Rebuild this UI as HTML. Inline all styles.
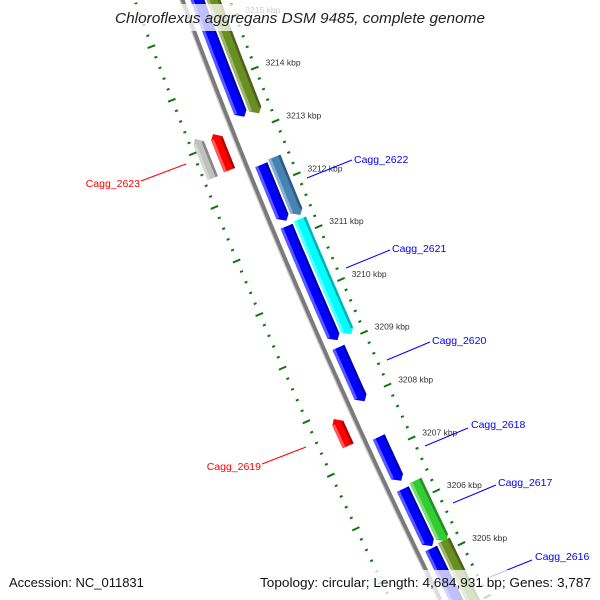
<!DOCTYPE html>
<html><head><meta charset="utf-8"><style>
html,body{margin:0;padding:0;background:#fff;width:600px;height:600px;overflow:hidden;}
svg{display:block;overflow:hidden;font-family:"Liberation Sans","DejaVu Sans",sans-serif;}
</style></head><body>
<svg id="map" width="600" height="600" viewBox="0 0 600 600" xmlns="http://www.w3.org/2000/svg">
<defs><clipPath id="frame"><rect x="0" y="0" width="600" height="600"/></clipPath></defs>
<g clip-path="url(#frame)">
<g id="ticks"></g>
<g id="backbone"></g>
<g id="features"></g>
<g id="labels">
<line x1="307" y1="178" x2="352" y2="160" stroke="#0000ff" stroke-width="1"/>
<text x="354" y="163" font-size="10.5" fill="#0000ff">Cagg_2622</text>
<line x1="346" y1="268" x2="390" y2="250" stroke="#0000ff" stroke-width="1"/>
<text x="392" y="252" font-size="10.5" fill="#0000ff">Cagg_2621</text>
<line x1="387" y1="360" x2="430" y2="342" stroke="#0000ff" stroke-width="1"/>
<text x="432" y="344" font-size="10.5" fill="#0000ff">Cagg_2620</text>
<line x1="425" y1="446" x2="468" y2="428" stroke="#0000ff" stroke-width="1"/>
<text x="471" y="428" font-size="10.5" fill="#0000ff">Cagg_2618</text>
<line x1="453" y1="503" x2="496" y2="485" stroke="#0000ff" stroke-width="1"/>
<text x="498" y="486" font-size="10.5" fill="#0000ff">Cagg_2617</text>
<line x1="490" y1="577" x2="532" y2="560" stroke="#0000ff" stroke-width="1"/>
<text x="535" y="560" font-size="10.5" fill="#0000ff">Cagg_2616</text>
<line x1="141" y1="181" x2="186" y2="164" stroke="#ff0000" stroke-width="1"/>
<text x="140" y="187" font-size="10.5" fill="#ff0000" text-anchor="end">Cagg_2623</text>
<line x1="262" y1="464" x2="306" y2="447" stroke="#ff0000" stroke-width="1"/>
<text x="261" y="470" font-size="10.5" fill="#ff0000" text-anchor="end">Cagg_2619</text>
</g>
<rect x="108" y="4" width="384" height="27" fill="#fff" fill-opacity="0.75"/>
<text x="115" y="23" font-size="14.5" font-style="italic" textLength="370" lengthAdjust="spacingAndGlyphs" fill="#222">Chloroflexus aggregans DSM 9485, complete genome</text>
<rect x="0" y="570" width="600" height="30" fill="#fff" fill-opacity="0.75"/>
<text x="9" y="587" font-size="13" fill="#111">Accession: NC_011831</text>
<text x="260" y="587" font-size="13" fill="#111" textLength="331" lengthAdjust="spacingAndGlyphs">Topology: circular; Length: 4,684,931 bp; Genes: 3,787</text>
</g>
</svg>
<script>
// ---- data ----
var featStart = [3215.95,3212.38,3211.22,3208.94,3207.25,3206.27,3205.15, 3215.95,3212.42,3211.25,3206.31,3205.18, 3213.19,3213.23,3207.85];
var featEnd   = [3213.27,3211.31,3209.06,3207.91,3206.41,3205.18,3203.55, 3213.23,3211.31,3209.06,3205.15,3203.55, 3212.50,3212.48,3207.33];
var featStrand= [1,1,1,1,1,1,1, 1,1,1,1,1, -1,-1,-1];
var featTrack = [0,0,0,0,0,0,0, 1,1,1,1,1, 0,1,0];
var featColor = ["#0000ff","#0000ff","#0000ff","#0000ff","#0000ff","#0000ff","#0000ff","#6b8e23","#4682b4","#00ffff","#33cc33","#6b8e23","#ff0000","#c0c0c0","#ff0000"];
var tickKbp = [3216,3215,3214,3213,3212,3211,3210,3209,3208,3207,3206,3205,3204];
var tickLabelKbp = [3215,3214,3213,3212,3211,3210,3209,3208,3207,3206,3205];

// ---- geometry ----
var NS="http://www.w3.org/2000/svg";
var A=182,B=0.37,C=0.0001;
function yOf(k){return 84+(3214-k)*53.2;}
function X(y){return A+B*y+C*y*y;}
function pt(y,off){var d=B+2*C*y,n=Math.sqrt(1+d*d);return [X(y)+off/n, y-off*d/n];}
function poly(pts,fill,g,name){
  var p=document.createElementNS(NS,"polygon");
  p.setAttribute("points",pts.map(function(q){return q[0].toFixed(1)+","+q[1].toFixed(1);}).join(" "));
  p.setAttribute("fill",fill);
  
  
  g.appendChild(p);
}
function shade(hex,f){
  var r=parseInt(hex.substr(1,2),16),g=parseInt(hex.substr(3,2),16),b=parseInt(hex.substr(5,2),16);
  function m(v){return Math.max(0,Math.min(255,Math.round(f>0?v+(255-v)*f:v*(1+f))));}
  return "rgb("+m(r)+","+m(g)+","+m(b)+")";
}
function body(y1,y2,o1,o2){
  var pts=[],N=20,i;
  for(i=0;i<=N;i++)pts.push(pt(y1+(y2-y1)*i/N,o1));
  for(i=N;i>=0;i--)pts.push(pt(y1+(y2-y1)*i/N,o2));
  return pts;
}

// backbone
var bb=document.getElementById("backbone");
function bbLine(off,col,w,name){
  var d="",y;
  for(y=-20;y<=600;y+=10){var q=pt(y,off);d+=(y===-20?"M":"L")+q[0].toFixed(1)+","+q[1].toFixed(1);}
  var p=document.createElementNS(NS,"path");
  p.setAttribute("d",d);p.setAttribute("stroke",col);p.setAttribute("stroke-width",w);p.setAttribute("fill","none");
  
  
  bb.appendChild(p);
}
bbLine(0.5,"#7a7a7a",4,"backbone-line");
bbLine(-2,"#c8c8c8",1.2,"backbone-highlight");

// features
var fg=document.getElementById("features");
for(var i=0;i<featStart.length;i++){
  var y1=yOf(featStart[i]),y2=Math.min(yOf(featEnd[i]),640),s=featStrand[i],t=featTrack[i];
  var o1,o2;
  if(s>0){o1=t===0?8:23;o2=t===0?21:36;}else{o1=t===0?-23:-41;o2=t===0?-11:-30;}
  var lo=Math.min(o1,o2),hi=Math.max(o1,o2),mid=(lo+hi)/2,al=5,pts;
  if(s>0){pts=body(y1,y2-al,lo,hi);pts.splice(21,0,pt(y2,mid+2));}
  else{pts=body(y1+al,y2,lo,hi);pts.push(pt(y1,mid-2));}
  poly(pts,featColor[i],fg,"gene-"+i);
  var b1=s>0?y1:y1+al,b2=s>0?y2-al:y2;
  poly(body(b1,b2,lo,lo+3),shade(featColor[i],0.35),fg,"gene-"+i+"-highlight");
  poly(body(b1,b2,hi-2.5,hi),shade(featColor[i],-0.3),fg,"gene-"+i+"-shadow");
}

// ticks
var tg=document.getElementById("ticks");
function dash(y,a,b,w){
  var p=pt(y,a),q=pt(y,b),l=document.createElementNS(NS,"line");
  l.setAttribute("x1",p[0]);l.setAttribute("y1",p[1]);l.setAttribute("x2",q[0]);l.setAttribute("y2",q[1]);
  l.setAttribute("stroke","#0a7a0a");l.setAttribute("stroke-width",w);
  
  
  tg.appendChild(l);
}
for(var j=0;j<tickKbp.length;j++){
  var k=tickKbp[j];
  for(var m=0;m<5;m++){
    var y=yOf(k-m*0.2);
    if(m===0){dash(y,40,48,2);dash(y,-49,-41,2);}
    else{dash(y,43,46,2);dash(y,-46,-43,2);}
  }
}
for(var j2=0;j2<tickLabelKbp.length;j2++){
  var kk=tickLabelKbp[j2];
  var e=pt(yOf(kk),48),tx=document.createElementNS(NS,"text");
  tx.setAttribute("x",(e[0]+7).toFixed(1));tx.setAttribute("y",(e[1]-1).toFixed(1));
  tx.setAttribute("font-size","8.5");tx.setAttribute("fill","#333");
  tx.textContent=kk+" kbp";
  
  
  tg.appendChild(tx);
}
</script>
</body></html>
